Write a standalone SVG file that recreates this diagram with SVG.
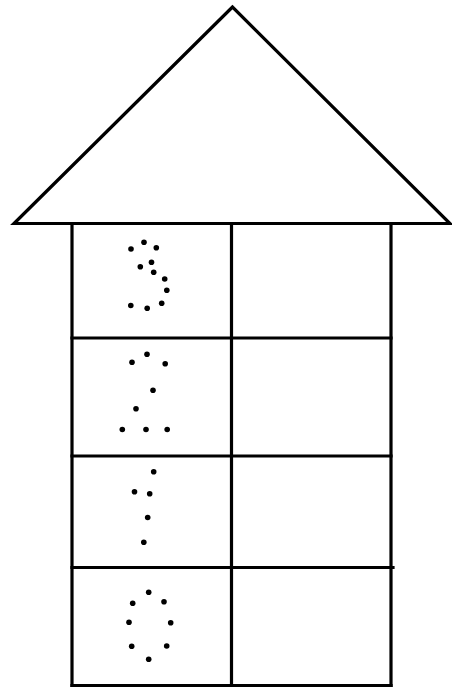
<svg xmlns="http://www.w3.org/2000/svg" width="452" height="688" viewBox="0 0 452 688">
<style>
.ln{stroke:#000;stroke-width:3.2;fill:none;stroke-linecap:square}
.d{fill:#000}
</style>
<rect width="452" height="688" fill="#fff"/>
<g id="roof"><polygon class="ln" points="232.5,7 14,223.5 450,223.5" style="stroke-linejoin:miter"/></g>
<g id="building">
<line class="ln" x1="72" y1="226" x2="72" y2="685.5"/>
<line class="ln" x1="231.5" y1="225" x2="231.5" y2="685.5"/>
<line class="ln" x1="391" y1="225" x2="391" y2="685.5"/>
<line class="ln" x1="72" y1="338" x2="391" y2="338"/>
<line class="ln" x1="72" y1="456" x2="391" y2="456"/>
<line class="ln" x1="72" y1="567.5" x2="393" y2="567.5"/>
<line class="ln" x1="72" y1="685.5" x2="391" y2="685.5"/>
</g>
<g id="digit3">
<circle class="d" cx="131" cy="249" r="2.8"/>
<circle class="d" cx="144" cy="242.3" r="2.8"/>
<circle class="d" cx="156.3" cy="247.7" r="2.8"/>
<circle class="d" cx="140.3" cy="266.7" r="2.8"/>
<circle class="d" cx="151.5" cy="262.2" r="2.8"/>
<circle class="d" cx="153.7" cy="272.3" r="2.8"/>
<circle class="d" cx="164.7" cy="279" r="2.8"/>
<circle class="d" cx="166.8" cy="290.3" r="2.8"/>
<circle class="d" cx="130.8" cy="305.5" r="2.8"/>
<circle class="d" cx="147.2" cy="308.3" r="2.8"/>
<circle class="d" cx="161.7" cy="303.2" r="2.8"/>
</g>
<g id="digit2">
<circle class="d" cx="147" cy="354.3" r="2.8"/>
<circle class="d" cx="132" cy="362.3" r="2.8"/>
<circle class="d" cx="165.2" cy="363.7" r="2.8"/>
<circle class="d" cx="153" cy="390.3" r="2.8"/>
<circle class="d" cx="136" cy="408.8" r="2.8"/>
<circle class="d" cx="122.3" cy="429.5" r="2.8"/>
<circle class="d" cx="146" cy="429.5" r="2.8"/>
<circle class="d" cx="167.2" cy="429.5" r="2.8"/>
</g>
<g id="digit1">
<circle class="d" cx="153.7" cy="471.7" r="2.8"/>
<circle class="d" cx="134.5" cy="491.8" r="2.8"/>
<circle class="d" cx="149.7" cy="493.7" r="2.8"/>
<circle class="d" cx="147.7" cy="517.5" r="2.8"/>
<circle class="d" cx="143.8" cy="542.2" r="2.8"/>
</g>
<g id="digit0">
<circle class="d" cx="148.7" cy="592.3" r="2.8"/>
<circle class="d" cx="132.7" cy="603.3" r="2.8"/>
<circle class="d" cx="164" cy="601.7" r="2.8"/>
<circle class="d" cx="129" cy="622.3" r="2.8"/>
<circle class="d" cx="170.7" cy="622.7" r="2.8"/>
<circle class="d" cx="131.7" cy="646.3" r="2.8"/>
<circle class="d" cx="166.7" cy="646" r="2.8"/>
<circle class="d" cx="148.7" cy="659.3" r="2.8"/>
</g>
</svg>
